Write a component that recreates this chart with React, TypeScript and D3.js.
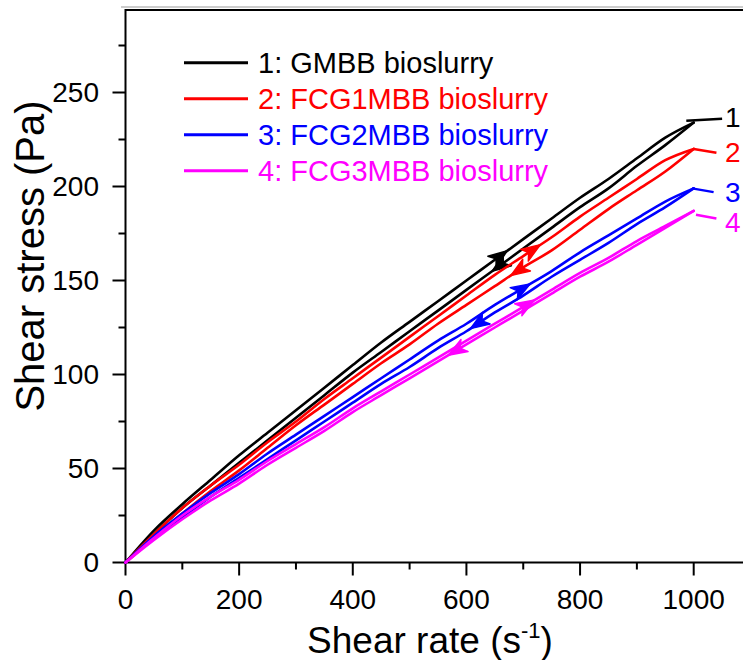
import React from "react";
import * as d3 from "d3";

// ---- data (shear rate s^-1, shear stress Pa) ----
const seriesNames = ["1: GMBB bioslurry", "2: FCG1MBB bioslurry", "3: FCG2MBB bioslurry", "4: FCG3MBB bioslurry"];
const seriesColors = ["#000000", "#ff0000", "#0000ff", "#ff00ff"];
const seriesTags = ["1", "2", "3", "4"];

const shearRate = [0, 50, 100, 150, 200, 250, 300, 350, 400, 450, 500, 550, 600, 650, 700, 750, 800, 850, 900, 950, 1000];

const gmbbUp = [0, 17, 31, 44, 57, 69, 81, 93, 105, 117, 128, 139, 150, 161, 172, 183, 194, 204, 215, 226, 234];
const gmbbDown = [0, 15, 29, 41, 53, 65, 77, 89, 101, 112, 123, 134, 145, 156, 167, 178, 189, 199, 211, 222, 234];
const fcg1Up = [0, 15, 29, 41, 52, 64, 75, 87, 98, 109, 120, 131, 142, 153, 163, 173, 184, 194, 204, 214, 220];
const fcg1Down = [0, 13, 26, 38, 49, 61, 73, 84, 95, 106, 116, 127, 137, 147, 157, 166, 177, 188, 198, 208, 220];
const fcg2Up = [0, 14, 26, 37, 47, 58, 68, 78, 88, 98, 108, 118, 127, 137, 146, 155, 165, 174, 183, 192, 199];
const fcg2Down = [0, 13, 24, 35, 45, 55, 65, 75, 85, 95, 104, 114, 123, 133, 142, 152, 161, 170, 180, 189, 199];
const fcg3Up = [0, 13, 25, 35, 44, 54, 63, 72, 82, 91, 100, 109, 118, 127, 136, 145, 154, 162, 171, 179, 187];
const fcg3Down = [0, 12, 23, 33, 42, 52, 61, 70, 80, 89, 98, 107, 116, 125, 134, 143, 152, 160, 169, 178, 187];

const upBranches = [gmbbUp, fcg1Up, fcg2Up, fcg3Up];
const downBranches = [gmbbDown, fcg1Down, fcg2Down, fcg3Down];

// arrow positions along branches (shear rate)
const upArrowRate = [672, 730, 712, 720];
const downArrowRate = [645, 678, 607, 568];

// leader lines for end tags: [rate, stress]
const leaderStart = [[987, 235], [1000, 220], [997, 199], [1004, 185]];
const leaderEnd = [[1050, 236], [1040, 218], [1035, 197], [1040, 183]];
const tagPos = [[1055, 237], [1055, 218], [1055, 197], [1055, 181]];

const xTicks = [0, 200, 400, 600, 800, 1000];
const xMinor = [100, 300, 500, 700, 900, 1100];
const yTicks = [0, 50, 100, 150, 200, 250];
const yMinor = [25, 75, 125, 175, 225, 275];

const W = 743, H = 660;
const L = 125.5, R = 743, T = 10, B = 562.5;
const FONT = "Liberation Sans, Arial, sans-serif";

export default function App() {
  const x = d3.scaleLinear().domain([0, 1000]).range([L, 693.7]);
  const y = d3.scaleLinear().domain([0, 250]).range([B, 92.5]);
  const line = d3.line<[number, number]>().x(d => x(d[0])).y(d => y(d[1])).curve(d3.curveMonotoneX);

  const interp = (arr: number[], r: number) => {
    const i = Math.min(shearRate.length - 2, Math.max(0, d3.bisectRight(shearRate, r) - 1));
    const t = (r - shearRate[i]) / (shearRate[i + 1] - shearRate[i]);
    return arr[i] + t * (arr[i + 1] - arr[i]);
  };

  const arrowHead = (r: number, arr: number[], dir: number, color: string, key: string) => {
    const px = x(r), py = y(interp(arr, r));
    const p2x = x(r + 20), p2y = y(interp(arr, r + 20));
    let ang = Math.atan2(p2y - py, p2x - px) * 180 / Math.PI;
    if (dir < 0) ang += 180;
    return (
      <path key={key} d="M0,0 L-19,-7 L-14,0 L-19,7 Z" fill={color} stroke={color} strokeWidth={1.4} strokeLinejoin="round"
        transform={`translate(${px},${py}) rotate(${ang})`} />
    );
  };

  return (
    <svg width={W} height={H} style={{ position: "absolute", left: 0, top: 0, background: "#fff" }} fontFamily={FONT}>
      {/* faint artifact line above frame */}
      <line x1={121} x2={R} y1={7} y2={7} stroke="#999" strokeWidth={1} />
      {/* frame */}
      <line x1={L} x2={R} y1={T} y2={T} stroke="#000" strokeWidth={2} />
      <line x1={L} x2={L} y1={T - 1} y2={B + 1} stroke="#000" strokeWidth={2} />
      <line x1={L - 1} x2={R} y1={B} y2={B} stroke="#000" strokeWidth={2} />

      {/* x ticks */}
      {xTicks.map(t => (
        <g key={"xt" + t}>
          <line x1={x(t)} x2={x(t)} y1={B} y2={B + 13} stroke="#000" strokeWidth={2} />
          <text x={x(t)} y={609} textAnchor="middle" fontSize={28}>{t}</text>
        </g>
      ))}
      {xMinor.map(t => (
        <line key={"xm" + t} x1={x(t)} x2={x(t)} y1={B} y2={B + 7} stroke="#000" strokeWidth={2} />
      ))}
      {/* y ticks */}
      {yTicks.map(t => (
        <g key={"yt" + t}>
          <line x1={L} x2={L - 13} y1={y(t)} y2={y(t)} stroke="#000" strokeWidth={2} />
          <text x={99} y={y(t)} dy="0.35em" textAnchor="end" fontSize={28}>{t}</text>
        </g>
      ))}
      {yMinor.map(t => (
        <line key={"ym" + t} x1={L} x2={L - 7} y1={y(t)} y2={y(t)} stroke="#000" strokeWidth={2} />
      ))}

      {/* axis titles */}
      <text x={430} y={653} textAnchor="middle" fontSize={37}>
        Shear rate (s<tspan fontSize={22} dy={-15}>-1</tspan><tspan dy={15}>)</tspan>
      </text>
      <text transform="translate(44,256) rotate(-90)" textAnchor="middle" fontSize={40}>Shear stress (Pa)</text>

      {/* curves */}
      {seriesColors.map((c, i) => {
        const up = shearRate.map((r, k) => [r, upBranches[i][k]] as [number, number]);
        const down = shearRate.map((r, k) => [r, downBranches[i][k]] as [number, number]);
        return (
          <g key={"s" + i}>
            <path d={line(up) || ""} fill="none" stroke={c} strokeWidth={2.6} strokeLinejoin="round" strokeLinecap="round" />
            <path d={line(down) || ""} fill="none" stroke={c} strokeWidth={2.6} strokeLinejoin="round" strokeLinecap="round" />
            {arrowHead(upArrowRate[i], upBranches[i], 1, c, "ua" + i)}
            {arrowHead(downArrowRate[i], downBranches[i], -1, c, "da" + i)}
            <line x1={x(leaderStart[i][0])} y1={y(leaderStart[i][1])} x2={x(leaderEnd[i][0])} y2={y(leaderEnd[i][1])}
              stroke={c} strokeWidth={2.5} />
            <text x={x(tagPos[i][0])} y={y(tagPos[i][1])} dy="0.35em" fontSize={28} fill={c}>{seriesTags[i]}</text>
          </g>
        );
      })}

      {/* legend */}
      {seriesNames.map((n, i) => (
        <g key={"lg" + i} transform={`translate(184,${62.7 + i * 36})`}>
          <line x1={0} x2={64} y1={0} y2={0} stroke={seriesColors[i]} strokeWidth={3} />
          <text x={74} y={0} dy="0.36em" fontSize={29} fill={seriesColors[i]}>{n}</text>
        </g>
      ))}
    </svg>
  );
}
